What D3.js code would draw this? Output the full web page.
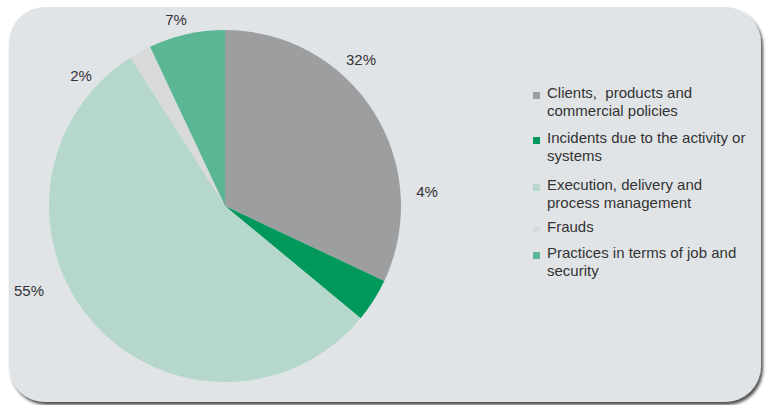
<!DOCTYPE html>
<html>
<head>
<meta charset="utf-8">
<script src="https://cdn.jsdelivr.net/npm/d3@7"></script>
<style>
  html, body { margin: 0; padding: 0; background: #ffffff; }
  svg { display: block; }
  text { font-family: "Liberation Sans", Arial, Helvetica, sans-serif; }
</style>
</head>
<body>
<svg id="chart" width="766" height="405"></svg>
<script>
// Operational loss events by category (%)
const categories = [
  ["Clients,  products and", "commercial policies"],
  ["Incidents due to the activity or", "systems"],
  ["Execution, delivery and", "process management"],
  ["Frauds"],
  ["Practices in terms of job and", "security"]
];
const values = [32, 4, 55, 2, 7];
const colors = ["#9d9ea0", "#00985b", "#b6d7cb", "#d9dadc", "#5bb693"];

// Label placement relative to the pie centre (layout only)
const labelOffsets = [[136, -147], [202, -15], [-196, 84], [-144, -131], [-49, -187]];

const svg = d3.select("#chart");

// Card with soft drop shadow
const defs = svg.append("defs");
const f = defs.append("filter").attr("id", "shadow")
  .attr("x", "-5%").attr("y", "-5%").attr("width", "115%").attr("height", "115%");
f.append("feDropShadow").attr("dx", 2).attr("dy", 3).attr("stdDeviation", 1.8)
  .attr("flood-color", "#404040").attr("flood-opacity", 0.9);

svg.append("rect")
  .attr("x", 9).attr("y", 7).attr("width", 752).attr("height", 395)
  .attr("rx", 36).attr("ry", 36)
  .attr("fill", "#e1e4e7")
  .attr("filter", "url(#shadow)");

// Pie
const cx = 225, cy = 206, R = 176;
const pie = d3.pie().sort(null).value(d => d)
  .startAngle(0).endAngle(2 * Math.PI);
const arc = d3.arc().innerRadius(0).outerRadius(R);
const arcs = pie(values);

const g = svg.append("g").attr("transform", `translate(${cx},${cy})`);
g.selectAll("path.slice").data(arcs).join("path")
  .attr("class", "slice")
  .attr("d", arc)
  .attr("fill", (d, i) => colors[i]);

g.selectAll("text.pct").data(arcs).join("text")
  .attr("class", "pct")
  .attr("x", (d, i) => labelOffsets[i][0])
  .attr("y", (d, i) => labelOffsets[i][1])
  .attr("text-anchor", "middle")
  .attr("dominant-baseline", "central")
  .attr("font-size", 15)
  .attr("fill", "#333333")
  .text(d => d.value + "%");

// Legend
const legendX = 533;
const lineH = 18;
const itemTops = [98, 143, 190, 232, 258];
const legend = svg.append("g");
categories.forEach((lines, i) => {
  const base = itemTops[i];
  legend.append("rect")
    .attr("x", legendX).attr("y", base - 6)
    .attr("width", 7).attr("height", 7)
    .attr("fill", colors[i]);
  const t = legend.append("text")
    .attr("x", legendX + 14).attr("y", base)
    .attr("font-size", 15).attr("fill", "#333333")
    .attr("xml:space", "preserve");
  lines.forEach((ln, j) => {
    t.append("tspan").attr("x", legendX + 14).attr("y", base + j * lineH).text(ln);
  });
});
</script>
</body>
</html>
